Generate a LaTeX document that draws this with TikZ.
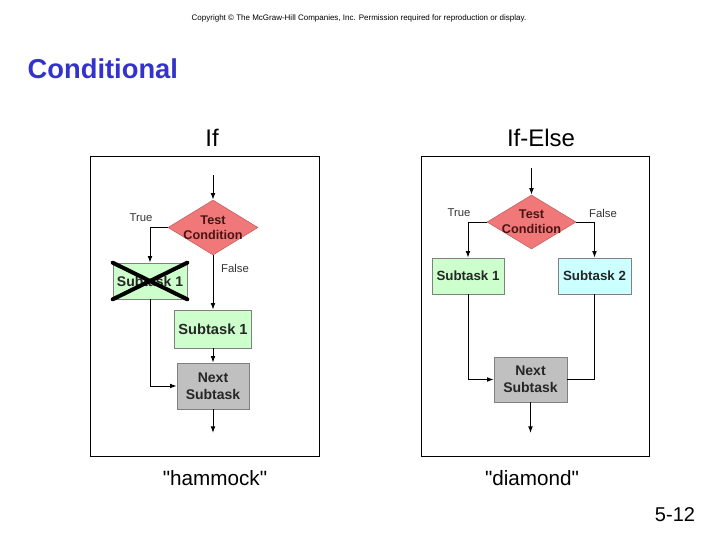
\documentclass[tikz,border=0pt]{standalone}
\usepackage{fontspec}
\setmainfont{Liberation Sans}
\usetikzlibrary{shapes.geometric,arrows.meta}
\definecolor{titleblue}{HTML}{3333CC}
\definecolor{diafill}{HTML}{F07878}
\definecolor{greenfill}{HTML}{CCFFCC}
\definecolor{cyanfill}{HTML}{CCFFFF}
\definecolor{greyfill}{HTML}{C0C0C0}
\definecolor{edgegrey}{HTML}{808080}
\definecolor{diatext}{HTML}{4A1414}
\definecolor{lbltext}{HTML}{333333}
\tikzset{
  arr/.style={draw=black, line width=0.75pt, -{Latex[length=5pt,width=3.6pt]}},
  lin/.style={draw=black, line width=0.75pt},
  dia/.style={diamond, draw=diafill!80!black, line width=0.4pt, fill=diafill, inner sep=0pt},
  diatxt/.style={font=\fontsize{9.5}{11}\selectfont\bfseries, text=diatext, align=center},
  box/.style={rectangle, draw=edgegrey, line width=0.5pt, inner sep=0pt, font=\bfseries, text=black!85},
  lbl/.style={font=\fontsize{8.5}{10}\selectfont, text=lbltext},
  panel/.style={draw=black, line width=0.75pt},
}
\begin{document}
\begin{tikzpicture}[x=0.75pt,y=-0.75pt]
\useasboundingbox (0,0) rectangle (720,540);
% header
\node[font=\fontsize{6}{7}\selectfont] (copy) at (359,18) {Copyright © The McGraw-Hill Companies, Inc. Permission required for reproduction or display.};
\node[anchor=west, font=\fontsize{20.5}{23}\selectfont\bfseries, text=titleblue] (title) at (23,69) {Conditional};
\node[font=\fontsize{18}{20}\selectfont] (if) at (212,138) {If};
\node[font=\fontsize{18}{20}\selectfont] (ifelse) at (541,138) {If-Else};
\node[font=\fontsize{15.5}{18}\selectfont] (hammock) at (215,478) {\textquotedbl hammock\textquotedbl};
\node[font=\fontsize{15.5}{18}\selectfont] (diamondlbl) at (532,478) {\textquotedbl diamond\textquotedbl};
\node[font=\fontsize{15}{18}\selectfont] (pagenum) at (675,515) {5-12};
% panels
\node[panel, rectangle, minimum width=171.75pt, minimum height=225pt, inner sep=0pt] (p1) at (205,306) {};
\node[panel, rectangle, minimum width=171pt, minimum height=225pt, inner sep=0pt] (p2) at (535,306) {};

% ---------- If ----------
\node[dia, minimum width=67.5pt, minimum height=41.25pt] (d1) at (213,227.5) {};
\node[diatxt] (d1t) at (d1) {Test\\Condition};
\node[box, fill=greenfill, minimum width=55.5pt, minimum height=27pt, font=\fontsize{10.5}{12}\selectfont\bfseries] (x1) at (150,281) {Subtask 1};
\draw[line width=3pt, line cap=round] (x1.north west) -- (x1.south east);
\draw[line width=3pt, line cap=round] (x1.south west) -- (x1.north east);
\node[box, fill=greenfill, minimum width=57.75pt, minimum height=28.5pt, font=\fontsize{11}{13}\selectfont\bfseries] (s1) at (213,329) {Subtask 1};
\node[box, fill=greyfill, minimum width=54pt, minimum height=34.5pt, align=center, font=\fontsize{10.5}{12.5}\selectfont\bfseries] (n1) at (213,386) {Next\\Subtask};
\coordinate (in1) at (213,175);
\coordinate (out1) at (213,433);
\draw[arr] (in1) -- (d1.north);
\draw[arr] (d1.west) -| (x1.north);
\draw[arr] (d1.south) -- (s1.north);
\draw[arr] (s1.south) -- (n1.north);
\draw[arr] (x1.south) |- (n1.west);
\draw[arr] (n1.south) -- (out1);
\node[lbl] (t1) at (141,218) {True};
\node[lbl] (f1) at (235,268) {False};

% ---------- If-Else ----------
\node[dia, minimum width=66.75pt, minimum height=40.5pt] (d2) at (531.5,222) {};
\node[diatxt] (d2t) at (d2) {Test\\Condition};
\node[box, fill=greenfill, minimum width=54pt, minimum height=27pt, font=\fontsize{10}{12}\selectfont\bfseries] (a2) at (468,276) {Subtask 1};
\node[box, fill=cyanfill, minimum width=54.75pt, minimum height=27pt, font=\fontsize{10}{12}\selectfont\bfseries] (b2) at (594.5,276) {Subtask 2};
\node[box, fill=greyfill, minimum width=54.75pt, minimum height=33.75pt, align=center, font=\fontsize{10.5}{12.5}\selectfont\bfseries] (n2) at (530.5,379.5) {Next\\Subtask};
\coordinate (in2) at (531.5,168);
\coordinate (out2) at (530.5,433);
\draw[arr] (in2) -- (d2.north);
\draw[arr] (d2.west) -| (a2.north);
\draw[arr] (d2.east) -| (b2.north);
\draw[arr] (a2.south) |- (n2.west);
\draw[lin] (b2.south) |- (n2.east);
\draw[arr] (n2.south) -- (out2);
\node[lbl] (t2) at (459,213) {True};
\node[lbl] (f2) at (603,213) {False};
\end{tikzpicture}
\end{document}
